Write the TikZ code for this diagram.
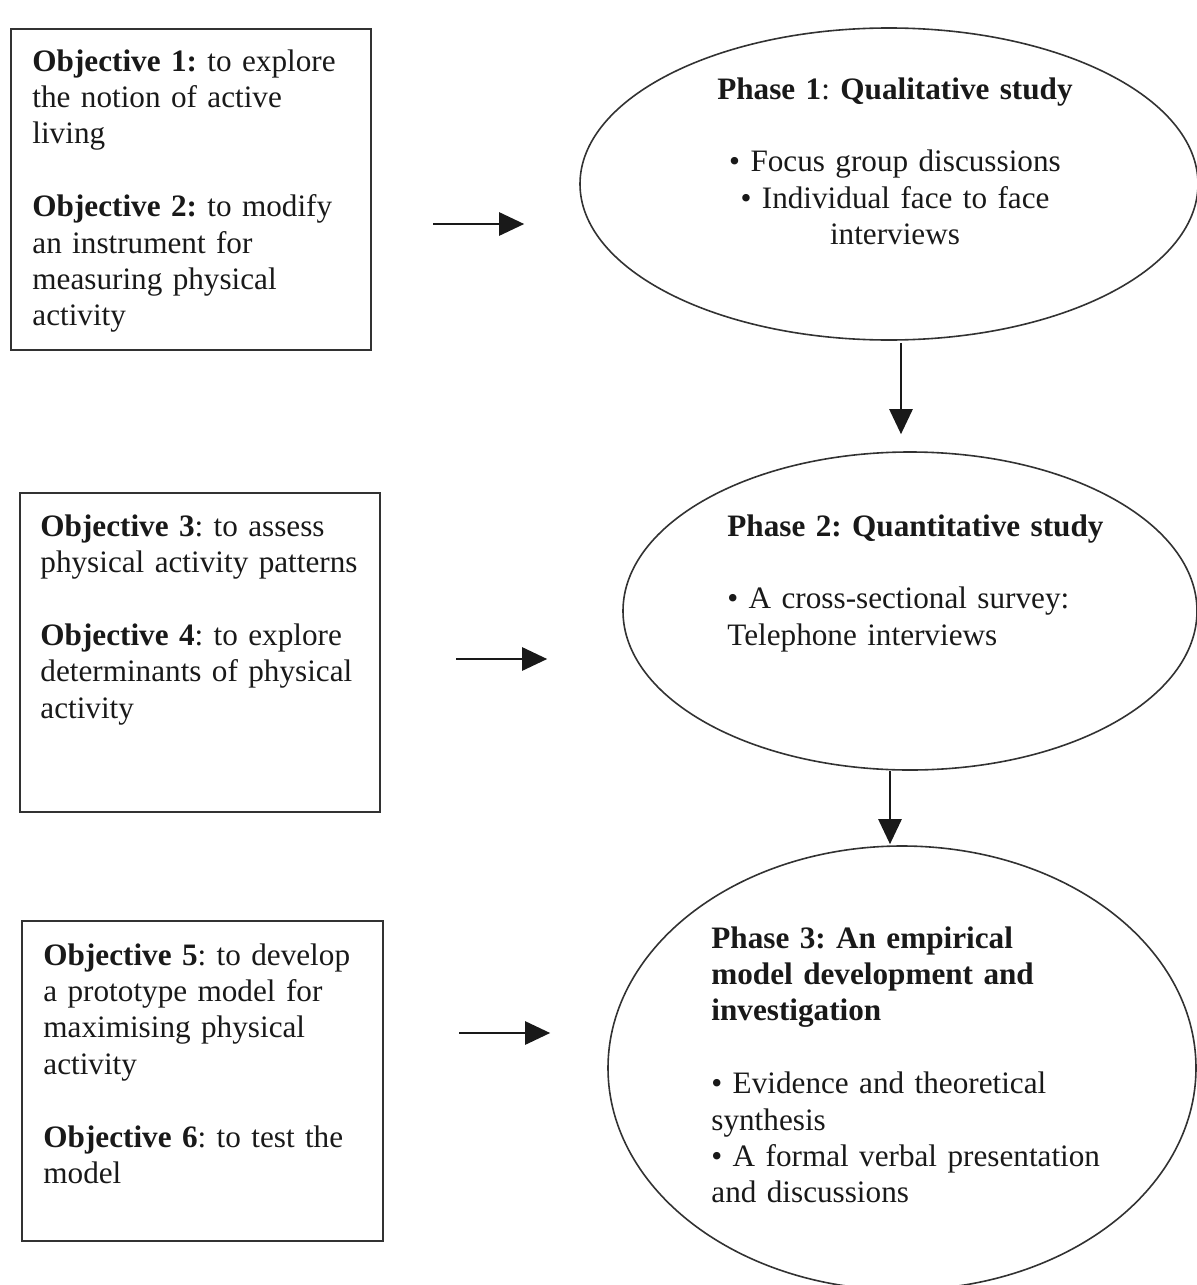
\documentclass[tikz,border=0pt]{standalone}
\usepackage{fontspec}
\setmainfont{Liberation Serif}
\usetikzlibrary{shapes.geometric,arrows.meta,calc}

\begin{document}
\begin{tikzpicture}[x=0.5pt, y=-0.5pt,
  objbox/.style={draw=boxline, line width=1pt, rectangle, inner sep=0pt},
  phase/.style={draw=boxline, line width=0.8pt, ellipse, inner sep=0pt},
  txt/.style={inner sep=0pt, text width=230pt, align=left, anchor=base west,
    text=inkblack, font=\fontsize{15.6}{18.2}\selectfont\frenchspacing},
  flow/.style={draw=inkblack, line width=1.3pt,
    -{Triangle[length=12.5pt, width=11.5pt]}}]

% === Colors ===
\definecolor{boxline}{RGB}{50,50,50}
\definecolor{inkblack}{RGB}{25,25,25}

% === Canvas ===
\useasboundingbox (0,0) rectangle (1197,1285);
\clip (0,0) rectangle (1197,1285);

% === Objective boxes (left column) ===
\node[objbox, minimum width=180pt, minimum height=160.5pt] (obj1) at (191,189.5) {};
\node[objbox, minimum width=180pt, minimum height=159.5pt] (obj2) at (200,652.5) {};
\node[objbox, minimum width=180.5pt, minimum height=160pt] (obj3) at (202.5,1081) {};

% === Phase ellipses (right column) ===
\node[phase, minimum width=309pt, minimum height=156pt] (ph1) at (889,184) {};
\node[phase, minimum width=287pt, minimum height=159pt] (ph2) at (910,611) {};
\node[phase, minimum width=294pt, minimum height=222pt] (ph3) at (902,1068) {};

% === Objective texts ===
\node[txt] (obj1txt) at (32,71) {\textbf{Objective 1:} to explore\\ the notion of active\\ living\\[18.2pt]
  \textbf{Objective 2:} to modify\\ an instrument for\\ measuring physical\\ activity};
\node[txt] (obj2txt) at (40,536) {\textbf{Objective 3}: to assess\\ physical activity patterns\\[18.2pt]
  \textbf{Objective 4}: to explore\\ determinants of physical\\ activity};
\node[txt] (obj3txt) at (43,965) {\textbf{Objective 5}: to develop\\ a prototype model for\\ maximising physical\\ activity\\[18.2pt]
  \textbf{Objective 6}: to test the\\ model};

% === Phase texts ===
\node[txt, align=center, anchor=base] (ph1txt) at (895,99) {\textbf{Phase 1}: \textbf{Qualitative study}\\[18.2pt]
  • Focus group discussions\\ • Individual face to face\\ interviews};
\node[txt] (ph2txt) at (727,536) {\textbf{Phase 2: Quantitative study}\\[18.2pt]
  • A cross-sectional survey:\\ Telephone interviews};
\node[txt] (ph3txt) at (711,948) {\textbf{Phase 3: An empirical}\\ \textbf{model development and}\\ \textbf{investigation}\\[18.2pt]
  • Evidence and theoretical\\ synthesis\\ • A formal verbal presentation\\ and discussions};

% === Arrows ===
\draw[flow] ($(obj1.east)+(61,34.5)$) -- ($(ph1.west)+(-55,40)$);
\draw[flow] ($(obj2.east)+(75,6.5)$) -- ($(ph2.west)+(-75,48)$);
\draw[flow] ($(obj3.east)+(75,-48)$) -- ($(ph3.west)+(-57,-35)$);
\draw[flow] ($(ph1.south)+(12,2)$) -- ($(ph2.north)+(-9,-17)$);
\draw[flow] ($(ph2.south)+(-20,0)$) -- ($(ph3.north)+(-12,-1)$);

\end{tikzpicture}
\end{document}
